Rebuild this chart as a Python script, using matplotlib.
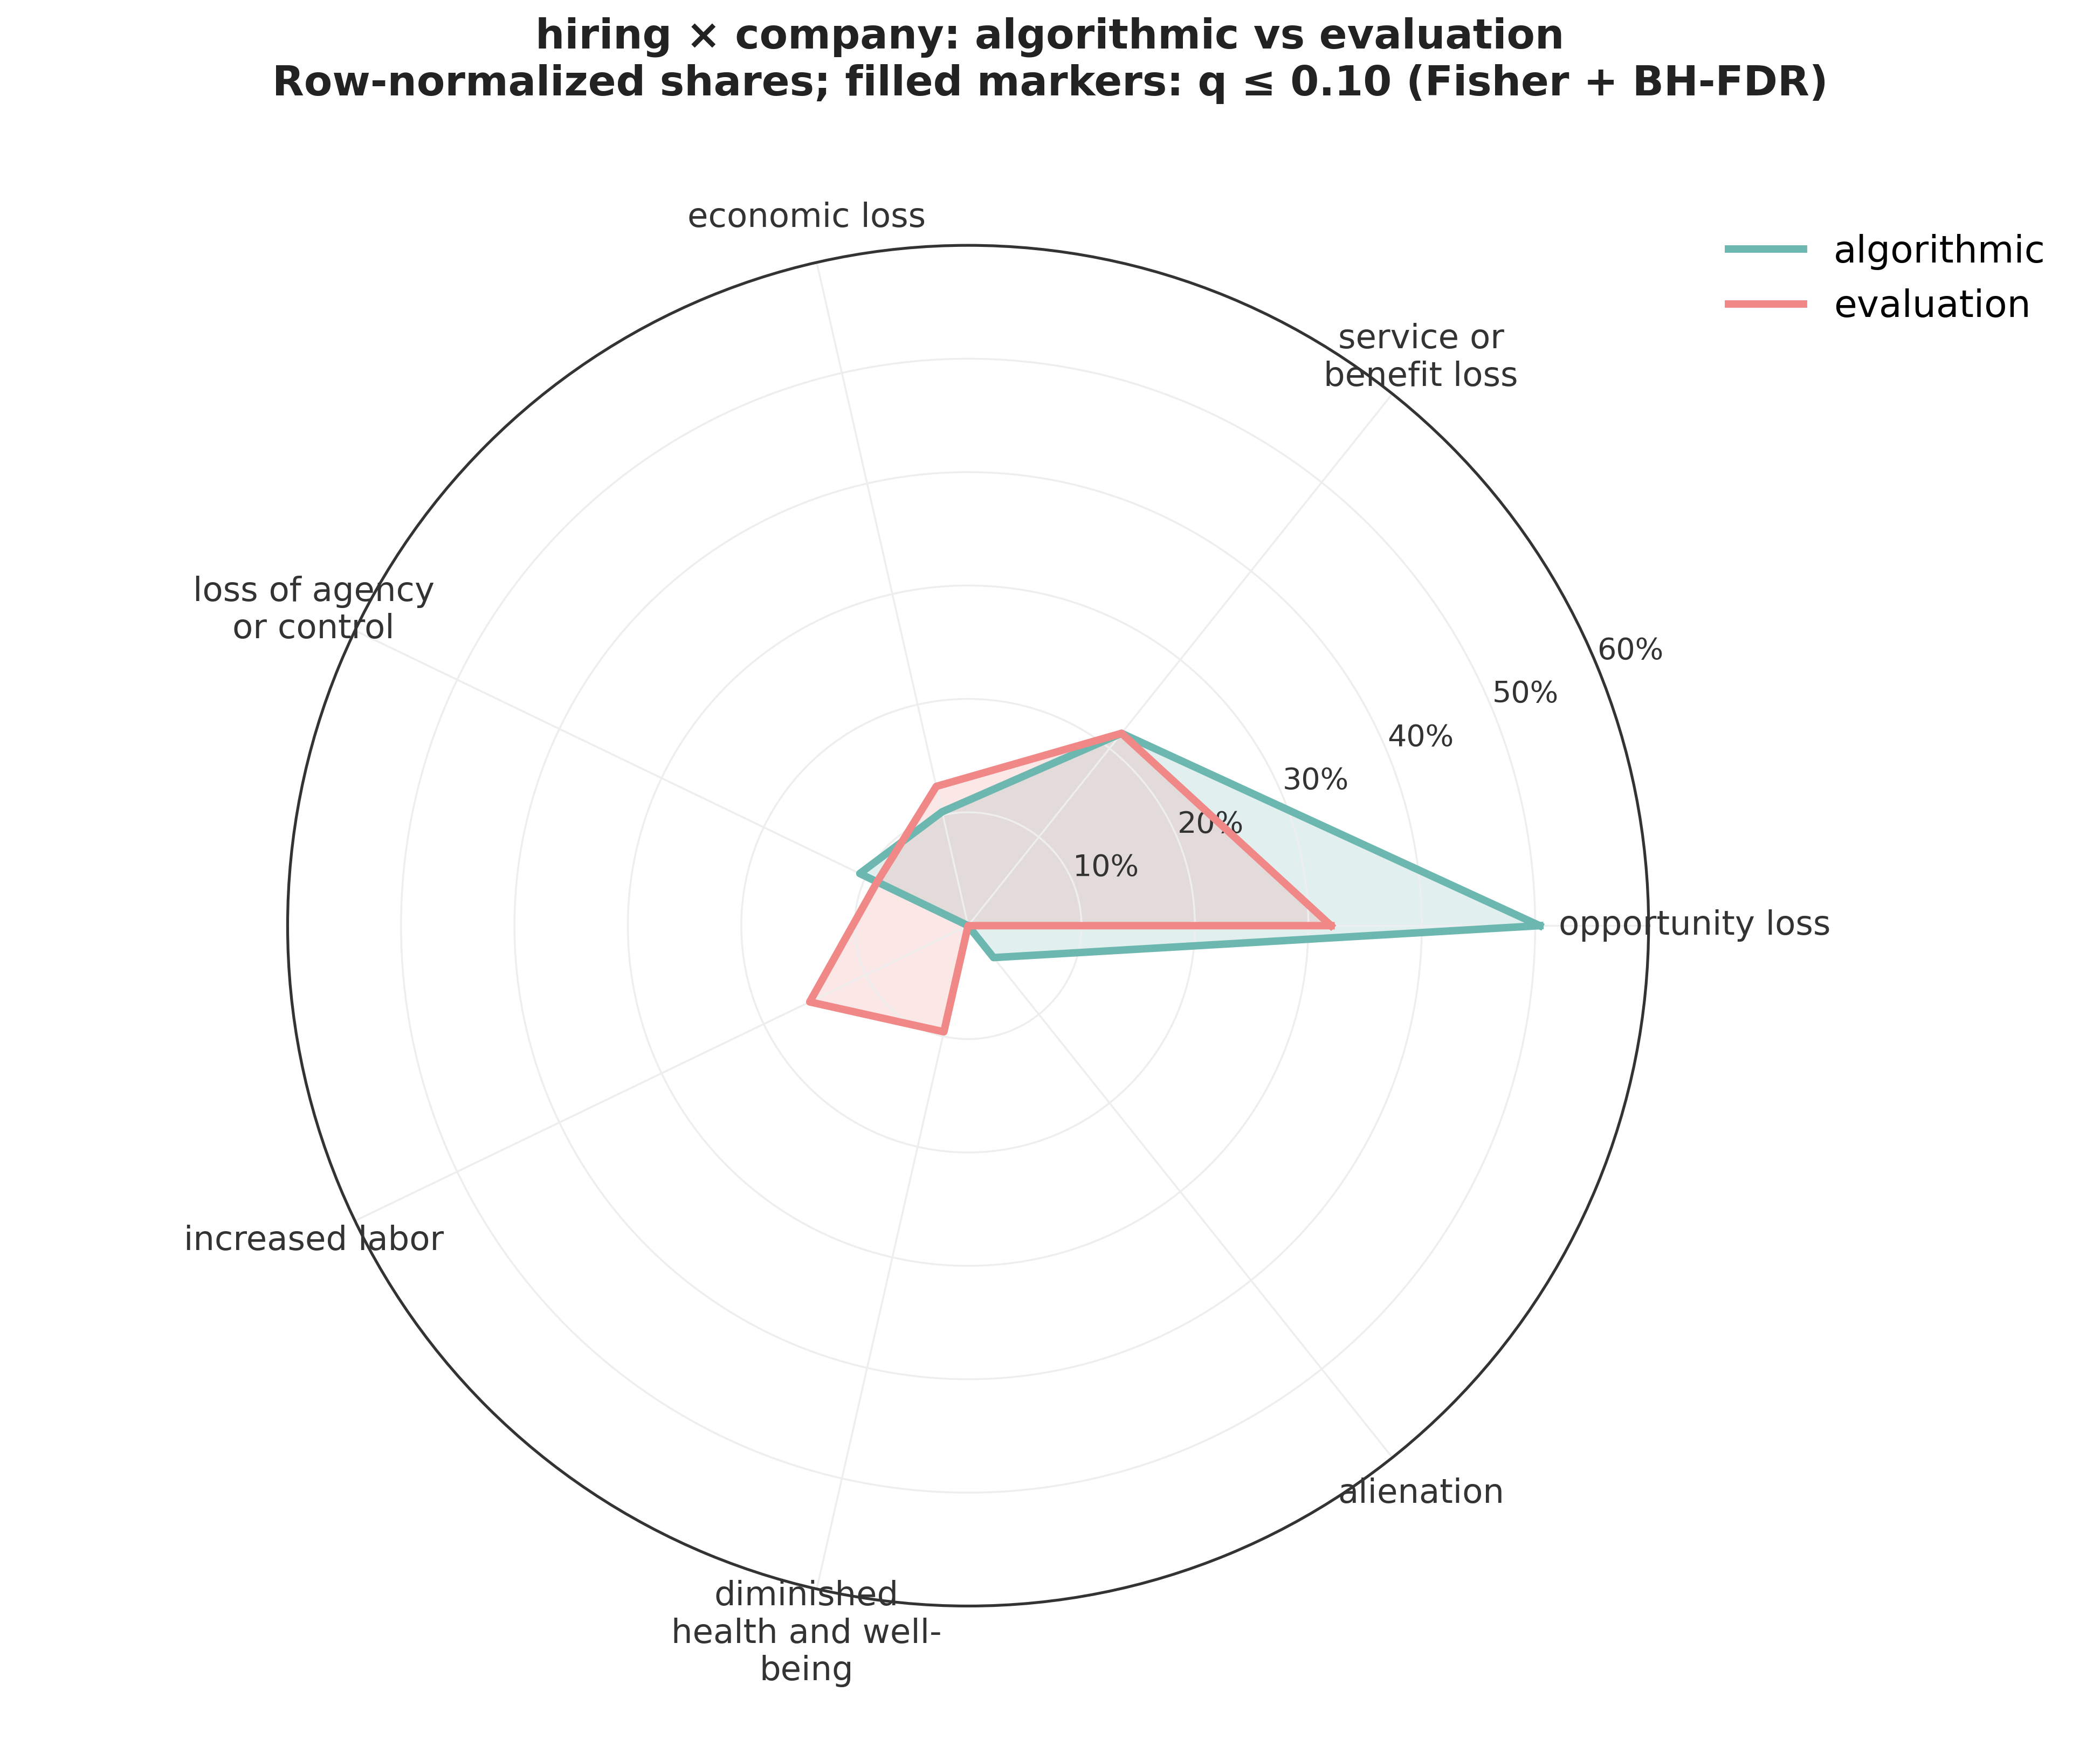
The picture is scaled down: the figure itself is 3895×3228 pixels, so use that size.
import numpy as np
import matplotlib.pyplot as plt

categories = ["opportunity loss", "service or\nbenefit loss", "economic loss",
              "loss of agency\nor control", "increased labor",
              "diminished\nhealth and well-\nbeing", "alienation"]
algorithmic = [50.4, 21.7, 10.3, 10.6, 0.0, 0.0, 3.6]
evaluation = [32.0, 21.7, 12.6, 8.9, 15.5, 9.6, 0.0]

n = len(categories)
angles = np.linspace(0, 2 * np.pi, n, endpoint=False)
ang = np.append(angles, angles[0])

fig = plt.figure(figsize=(15.58, 12.912), dpi=250)
ax = fig.add_subplot(111, projection="polar")
ax.set_position([0.135, 0.077, 0.652, 0.782])

for vals, col, lab in [(algorithmic, "#6cb7af", "algorithmic"),
                       (evaluation, "#f08888", "evaluation")]:
    v = np.append(vals, vals[0])
    ax.plot(ang, v, color=col, lw=4, label=lab)
    ax.fill(ang, v, color=col, alpha=0.2)

ax.set_ylim(0, 60)
ax.set_yticks([10, 20, 30, 40, 50, 60])
ax.set_yticklabels(["10%", "20%", "30%", "40%", "50%", "60%"], fontsize=16, color="#333333")
ax.set_rlabel_position(22.5)
ax.set_xticks(angles)
ax.set_xticklabels(categories, fontsize=18, color="#333333")
ax.tick_params(axis="x", pad=14)
ax.grid(color="#eeeeee", lw=1)
ax.spines["polar"].set_color("#333333")
ax.spines["polar"].set_linewidth(1.5)

fig.legend(loc="upper right", bbox_to_anchor=(0.99, 0.885), fontsize=20, frameon=False)
fig.suptitle("hiring × company: algorithmic vs evaluation\n"
             "Row-normalized shares; filled markers: q ≤ 0.10 (Fisher + BH-FDR)",
             fontsize=22, fontweight="bold", color="#222222", y=0.99)
fig.savefig("out.png", dpi=250)
